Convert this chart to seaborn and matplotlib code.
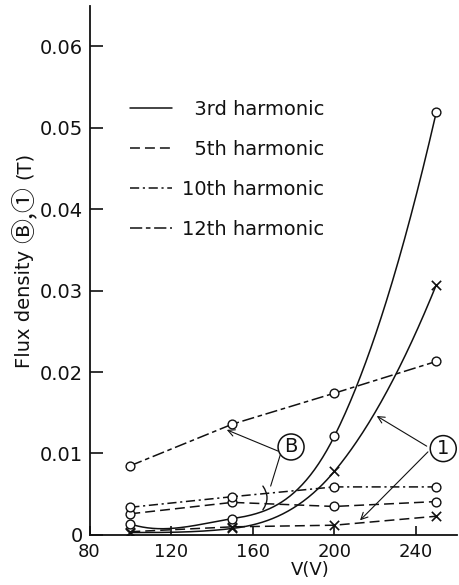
import numpy as np
import matplotlib
matplotlib.use("Agg")
import matplotlib.pyplot as plt
from matplotlib.lines import Line2D
from matplotlib.transforms import IdentityTransform
import seaborn as sns

# Supply voltage (V) at which flux density was measured
voltage = [100, 150, 200, 250]

# Flux density B (T) per harmonic, open circles
b_3rd = [0.00135, 0.0020, 0.0121, 0.0519]
b_5th = [0.0026, 0.0040, 0.0035, 0.0041]
b_10th = [0.0034, 0.0047, 0.0059, 0.0059]
b_12th = [0.0085, 0.0136, 0.0174, 0.0213]

# Flux density I (T), crosses
i_3rd = [0.0003, 0.0008, 0.0078, 0.0307]
i_5th = [0.0004, 0.0010, 0.0012, 0.0023]

x_ticks = [80, 120, 160, 200, 240]
y_ticks = [0, 0.01, 0.02, 0.03, 0.04, 0.05, 0.06]
y_tick_labels = ["0", "0.01", "0.02", "0.03", "0.04", "0.05", "0.06"]
legend_labels = ["\u20073rd harmonic", "\u20075th harmonic",
                 "10th harmonic", "12th harmonic"]

sns.set_theme(style="ticks")
plt.rcParams["font.family"] = ["DejaVu Sans", "Noto Sans CJK JP"]

INK = "#111111"
LW = 1.1
STYLES = {
    "3rd": "-",
    "5th": (0, (6.5, 3.3)),
    "10th": (0, (6.0, 2.4, 1.4, 2.4)),
    "12th": (0, (8.0, 2.4, 3.0, 2.4)),
}

fig = plt.figure(figsize=(4.59, 5.85), dpi=100)
ax = fig.add_axes([0.195, 0.0855, 0.80, 0.904])


def hermite_trace(xs, ys, free_start=False, n=300):
    """Smooth cubic Hermite trace through the measured points.

    Interior tangents are centred differences, limited to keep each
    segment monotone; end tangents use the three-point formula.
    """
    xs = np.asarray(xs, float)
    ys = np.asarray(ys, float)
    h = np.diff(xs)
    d = np.diff(ys) / h
    m = np.zeros_like(ys)
    for k in range(1, len(xs) - 1):
        if d[k - 1] * d[k] > 0:
            mean = 0.5 * (d[k - 1] + d[k])
            lim = 3 * min(abs(d[k - 1]), abs(d[k]))
            m[k] = np.sign(mean) * min(abs(mean), lim)
    m[0] = ((2 * h[0] + h[1]) * d[0] - h[0] * d[1]) / (h[0] + h[1])
    if not free_start and m[0] * d[0] <= 0:
        m[0] = 0.0
    m[-1] = ((2 * h[-1] + h[-2]) * d[-1] - h[-1] * d[-2]) / (h[-1] + h[-2])
    xx = np.linspace(xs[0], xs[-1], n)
    idx = np.clip(np.searchsorted(xs, xx) - 1, 0, len(h) - 1)
    t = (xx - xs[idx]) / h[idx]
    h00 = 2 * t**3 - 3 * t**2 + 1
    h10 = t**3 - 2 * t**2 + t
    h01 = -2 * t**3 + 3 * t**2
    h11 = t**3 - t**2
    yy = (h00 * ys[idx] + h10 * h[idx] * m[idx]
          + h01 * ys[idx + 1] + h11 * h[idx] * m[idx + 1])
    return xx, yy


# smooth 3rd-harmonic traces
for ys, free in ((b_3rd, True), (i_3rd, False)):
    xx, yy = hermite_trace(voltage, ys, free_start=free)
    sns.lineplot(x=xx, y=yy, ax=ax, color=INK, lw=LW, linestyle=STYLES["3rd"],
                 estimator=None, sort=False)

# straight traces for the other harmonics
for ys, key in ((b_5th, "5th"), (b_10th, "10th"), (b_12th, "12th"), (i_5th, "5th")):
    sns.lineplot(x=voltage, y=ys, ax=ax, color=INK, lw=LW, linestyle=STYLES[key],
                 estimator=None, sort=False)

# measured points
for ys in (b_3rd, b_5th, b_10th, b_12th):
    sns.scatterplot(x=voltage, y=ys, ax=ax, marker="o", s=40, facecolor="white",
                    edgecolor=INK, linewidth=1.0, zorder=5)
for ys in (i_3rd, i_5th):
    sns.scatterplot(x=voltage, y=ys, ax=ax, marker="x", s=45, color=INK,
                    linewidth=1.2, zorder=5)

# axes
ax.set_xlim(80, 260)
ax.set_ylim(0, 0.0649)
ax.set_xticks(x_ticks)
ax.set_yticks(y_ticks)
ax.set_yticklabels(y_tick_labels)
for side in ("top", "right"):
    ax.spines[side].set_visible(False)
for side in ("left", "bottom"):
    ax.spines[side].set_linewidth(1.3)
    ax.spines[side].set_color(INK)
ax.tick_params(axis="both", direction="in", width=1.2, colors=INK, labelcolor=INK)
ax.tick_params(axis="y", length=9, pad=5, labelsize=14)
ax.tick_params(axis="x", length=6.5, pad=6, labelsize=13)

ax.set_xlabel("V(V)", fontsize=13, color=INK)
ax.xaxis.set_label_coords(0.60, -0.05)

# legend
handles = [Line2D([0], [0], color=INK, lw=LW, linestyle=STYLES[k])
           for k in ("3rd", "5th", "10th", "12th")]
ax.legend(handles, legend_labels, loc="upper left", bbox_to_anchor=(0.11, 0.822),
          frameon=False, fontsize=14, handlelength=2.16, handletextpad=0.5,
          labelspacing=1.08, borderpad=0, borderaxespad=0, labelcolor=INK)

# circled tags with leader lines
circ = dict(boxstyle="circle,pad=0.18", fc="white", ec=INK, lw=1.1)
ax.text(178.8, 0.0108, "B", fontsize=14, ha="center", va="center", color=INK,
        bbox=circ, zorder=6)
ax.text(253.4, 0.0106, "1", fontsize=14, ha="center", va="center", color=INK,
        bbox=circ, zorder=6)

thin = dict(arrowstyle="->", color=INK, lw=0.8, shrinkA=0, shrinkB=0,
            mutation_scale=12)
ax.annotate("", xy=(147.3, 0.0129), xytext=(172.4, 0.0103), arrowprops=thin)
ax.annotate("", xy=(168.8, 0.0060), xytext=(173.6, 0.0099),
            arrowprops=dict(arrowstyle="-", color=INK, lw=0.8,
                            shrinkA=0, shrinkB=0))
# brace gathering the 5th/10th B traces
ax.annotate("", xy=(165.0, 0.0031), xytext=(165.0, 0.0060),
            arrowprops=dict(arrowstyle="-", color=INK, lw=1.0, shrinkA=0,
                            shrinkB=0, connectionstyle="arc3,rad=-0.35"))
ax.annotate("", xy=(220.8, 0.0146), xytext=(245.3, 0.0109), arrowprops=thin)
ax.annotate("", xy=(212.6, 0.0018), xytext=(245.9, 0.0102), arrowprops=thin)

# y-axis title, set piecewise so the circled symbols come from a CJK face
renderer = fig.canvas.get_renderer()
fig_h = fig.get_size_inches()[1] * fig.dpi
y_pos = fig_h - 368
pieces = [("Flux density", ["DejaVu Sans"], 14, 0),
          ("\u24B7,\u2460", ["Noto Sans CJK JP", "DejaVu Sans"], 18, 1.5),
          ("(T)", ["DejaVu Sans"], 14, 0)]
for text, fam, size, shift in pieces:
    t = fig.text(30 + shift, y_pos, text, rotation=90, rotation_mode="anchor",
                 ha="left", va="baseline", fontsize=size, family=fam,
                 color=INK, transform=IdentityTransform())
    y_pos += t.get_window_extent(renderer).height + 7

fig.savefig("out.png", dpi=100, facecolor="white")
